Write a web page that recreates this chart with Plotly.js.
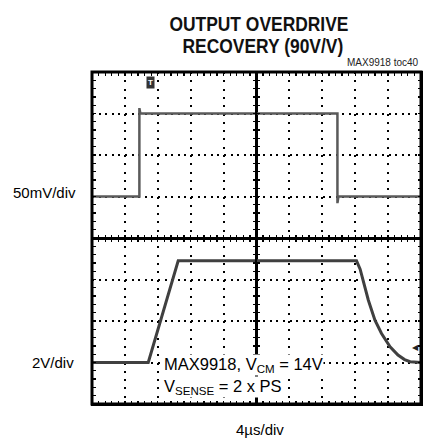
<!DOCTYPE html>
<html><head><meta charset="utf-8">
<script src="https://cdn.plot.ly/plotly-3.0.1.min.js"></script>
<style>html,body{margin:0;padding:0;background:#fff}#c{width:425px;height:439px}</style>
</head><body><div id="c"></div>
<script>
// Top channel (50mV/div), in divisions: x 0..10, y 4..8
const topX = [0, 1.44, 1.44, 1.47, 7.46, 7.46, 7.49, 10];
const topY = [5, 5, 7.13, 7, 7, 4.84, 5, 5];
// Bottom channel (2V/div), in divisions: x 0..10, y 0..4
const botX = [0, 1.71, 2.62, 8.04, 8.15, 8.23, 8.4, 8.6, 8.8, 9.06, 9.3, 9.5, 9.67, 10];
const botY = [1, 1, 3.45, 3.45, 3.25, 3.0, 2.5, 2.02, 1.7, 1.38, 1.18, 1.07, 1.02, 1.0];

const titleLines = ['OUTPUT OVERDRIVE', 'RECOVERY (90V/V)'];
const topScale = '50mV/div';
const botScale = '2V/div';
const timeScale = '4µs/div';
const noteLines = ['MAX9918, V<sub>CM</sub> = 14V', 'V<sub>SENSE</sub> = 2 x PS'];
const tag = 'MAX9918 toc40';

const sans = 'Liberation Sans, Arial, sans-serif';

function tr(x, y, xa, ya, color, w) {
  return {x: x, y: y, xaxis: xa, yaxis: ya, type: 'scatter', mode: 'lines',
    line: {color: color, width: w}, hoverinfo: 'skip', showlegend: false};
}
const data = [
  tr(topX, topY, 'x', 'y2', '#5a5a5a', 2.5),
  tr(topX, topY, 'x2', 'y2', '#5a5a5a', 2.5),
  tr(botX, botY, 'x', 'y', '#404040', 3),
  tr(botX, botY, 'x2', 'y', '#404040', 3)
];

function axis(dom, rng, anchor, dash) {
  return {domain: dom, range: rng, anchor: anchor, dtick: 1, tick0: 0,
    showline: true, linecolor: '#000', linewidth: 1.5, mirror: 'allticks',
    ticks: 'inside', ticklen: 3.5, tickcolor: '#000', tickwidth: 1.3,
    minor: {dtick: 0.2, tick0: 0, ticks: 'inside', ticklen: 3.5, tickcolor: '#000', tickwidth: 1.3, showgrid: false},
    showticklabels: false, showgrid: true, gridcolor: '#000', gridwidth: 2,
    griddash: dash, zeroline: false, fixedrange: true};
}

const layout = {
  width: 425, height: 439,
  margin: {l: 92, r: 4, t: 72, b: 35},
  paper_bgcolor: '#fff', plot_bgcolor: '#fff',
  showlegend: false,
  xaxis: axis([0, 0.5], [0, 5], 'y', '2px,6.3px'),
  xaxis2: axis([0.5, 1], [5, 10], 'y', '2px,6.3px'),
  yaxis: axis([0, 0.5], [0, 4], 'x', '2px,4.6px'),
  yaxis2: axis([0.5, 1], [4, 8], 'x', '2px,4.6px'),
  shapes: [{type: 'rect', xref: 'paper', yref: 'paper', x0: 0, x1: 1, y0: 0, y1: 1,
    line: {color: '#000', width: 3}, layer: 'above'}],
  annotations: [
    {text: '<b>' + titleLines[0] + '</b>', xref: 'paper', yref: 'paper', x: 0.5, y: 1, xanchor: 'center', yanchor: 'middle',
     xshift: 2, yshift: 49, showarrow: false, font: {family: sans, size: 21, color: '#111'}},
    {text: '<b>' + titleLines[1] + '</b>', xref: 'paper', yref: 'paper', x: 0.5, y: 1, xanchor: 'center', yanchor: 'middle',
     xshift: 6, yshift: 27, showarrow: false, font: {family: sans, size: 21, color: '#111'}},
    {text: tag, xref: 'paper', yref: 'paper', x: 1, y: 1, xanchor: 'right', yanchor: 'bottom',
     yshift: 2, showarrow: false, font: {family: sans, size: 10, color: '#222'}},
    {text: topScale, xref: 'paper', yref: 'y2', x: 0, y: 5.1, xanchor: 'right', yanchor: 'middle',
     xshift: -14, showarrow: false, font: {family: sans, size: 15, color: '#000'}},
    {text: botScale, xref: 'paper', yref: 'y', x: 0, y: 0.99, xanchor: 'right', yanchor: 'middle',
     xshift: -16, showarrow: false, font: {family: sans, size: 15, color: '#000'}},
    {text: timeScale, xref: 'paper', yref: 'paper', x: 0.5, y: 0, xanchor: 'center', yanchor: 'top',
     xshift: 3, yshift: -15, showarrow: false, font: {family: sans, size: 15, color: '#000'}},
    {text: noteLines[0], xref: 'x', yref: 'y', x: 2.16, y: 0.94, xanchor: 'left', yanchor: 'middle',
     showarrow: false, bgcolor: '#fff', borderpad: 0, font: {family: sans, size: 16.5, color: '#000'}},
    {text: noteLines[1], xref: 'x', yref: 'y', x: 2.16, y: 0.42, xanchor: 'left', yanchor: 'middle',
     showarrow: false, bgcolor: '#fff', borderpad: 0, font: {family: sans, size: 16.5, color: '#000'}},
    {text: '<b>T</b>', xref: 'x', yref: 'y2', x: 1.79, y: 7.74, xanchor: 'center', yanchor: 'middle',
     showarrow: false, bgcolor: '#333', borderpad: 1, font: {family: sans, size: 8, color: '#fff'}},
    {text: '◀', xref: 'x2', yref: 'y', x: 10, y: 1.35, xanchor: 'right', yanchor: 'middle',
     showarrow: false, font: {family: sans, size: 8, color: '#222'}}
  ]
};

Plotly.newPlot('c', data, layout, {displayModeBar: false, staticPlot: true}).then(function(gd) {
  // condense the bold title lines horizontally, as in the reference lettering
  const groups = gd.querySelectorAll('.annotation');
  [0, 1].forEach(function(i) {
    const t = groups[i] && groups[i].querySelector('text');
    if (t) { t.style.transformBox = 'fill-box'; t.style.transformOrigin = 'center'; t.style.transform = 'scaleX(0.83)'; }
  });
});
</script></body></html>
